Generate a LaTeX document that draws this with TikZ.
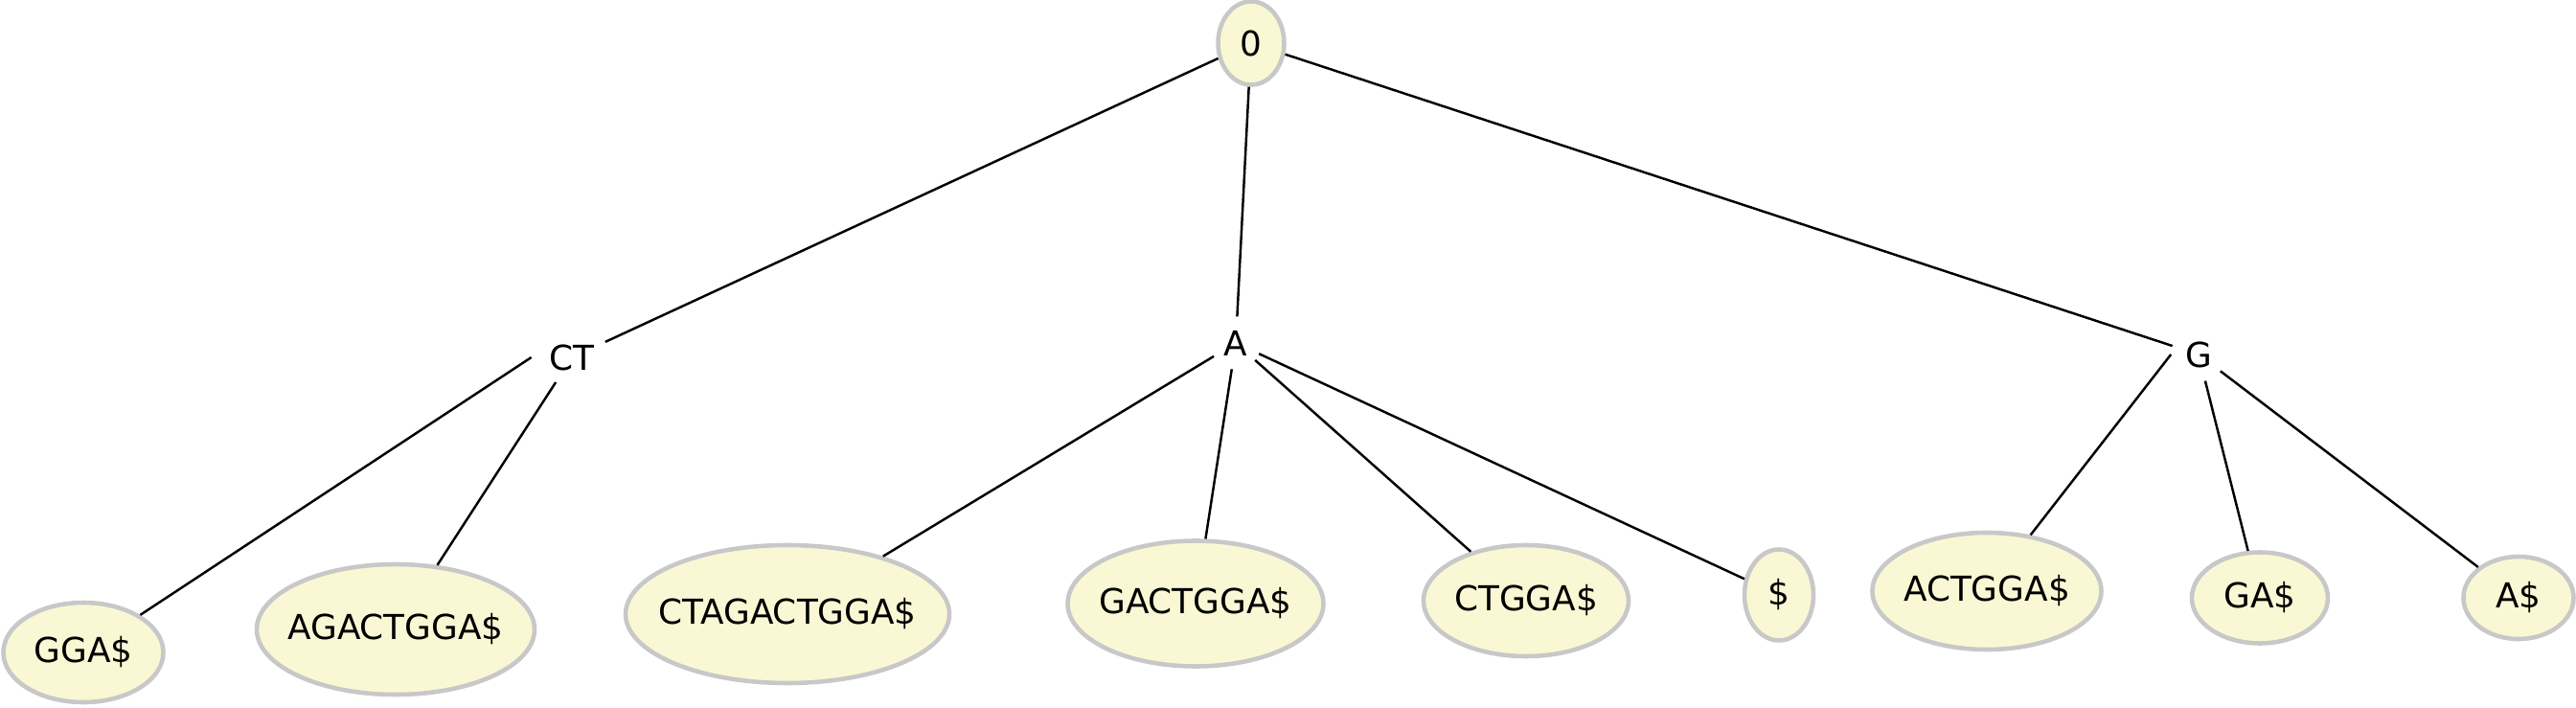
\documentclass[tikz,border=0pt]{standalone}
\usepackage{fontspec}
\setmainfont{DejaVu Sans}
\usepackage{tikz}
\usetikzlibrary{
  shapes.geometric,
  positioning
}
\definecolor{leaffill}{RGB}{250,248,212}
\definecolor{leafline}{RGB}{200,200,200}

\begin{document}
\begin{tikzpicture}[
  every node/.style={font=\fontsize{10.2}{12}\selectfont},
  leaf/.style={ellipse,draw=leafline,fill=leaffill,line width=1.3pt,inner sep=0pt,
    execute at begin node={\hbox to 0pt\bgroup\hss},
    execute at end node={\hss\egroup}},
  inner/.style={ellipse,inner sep=0.06cm},
  edge/.style={line width=0.7pt,black}
]
  \useasboundingbox (0,0) rectangle (26.89,-7.39);

  \node[leaf,minimum width=0.69cm,minimum height=0.87cm] at (13.06,-0.45) (Root) {0};

  \node[inner] at (5.97,-3.73) (CT) {CT};
  \node[inner] at (12.90,-3.58) (A) {A};
  \node[inner] at (22.95,-3.70) (G) {G};

  \node[leaf,minimum width=1.67cm,minimum height=1.04cm] at (0.87,-6.81) (GGA) {GGA\$};
  \node[leaf,minimum width=2.90cm,minimum height=1.36cm] at (4.13,-6.57) (AGACTGGA) {AGACTGGA\$};
  \node[leaf,minimum width=3.38cm,minimum height=1.44cm] at (8.22,-6.41) (CTAGACTGGA) {CTAGACTGGA\$};
  \node[leaf,minimum width=2.67cm,minimum height=1.31cm] at (12.48,-6.30) (GACTGGA) {GACTGGA\$};
  \node[leaf,minimum width=2.14cm,minimum height=1.16cm] at (15.93,-6.27) (CTGGA) {CTGGA\$};
  \node[leaf,minimum width=0.72cm,minimum height=0.95cm] at (18.57,-6.21) (End) {\$};
  \node[leaf,minimum width=2.39cm,minimum height=1.22cm] at (20.74,-6.17) (ACTGGA) {ACTGGA\$};
  \node[leaf,minimum width=1.42cm,minimum height=0.95cm] at (23.59,-6.24) (GA) {GA\$};
  \node[leaf,minimum width=1.15cm,minimum height=0.86cm] at (26.29,-6.24) (Aend) {A\$};

  \draw[edge] (Root) -- (CT);
  \draw[edge] (Root) -- (A);
  \draw[edge] (Root) -- (G);

  \draw[edge] (CT.west) -- (GGA);
  \draw[edge] (CT) -- (AGACTGGA);
  \draw[edge] (A) -- (CTAGACTGGA);
  \draw[edge] (A) -- (GACTGGA);
  \draw[edge] (A) -- (CTGGA);
  \draw[edge] (A) -- (End);
  \draw[edge] (G.west) -- (ACTGGA);
  \draw[edge] (G) -- (GA);
  \draw[edge] (G) -- (Aend);
\end{tikzpicture}
\end{document}
